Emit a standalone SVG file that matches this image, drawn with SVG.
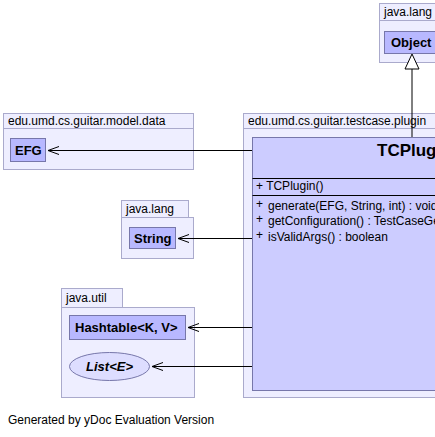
<svg xmlns="http://www.w3.org/2000/svg" width="435" height="437" viewBox="0 0 435 437">
<style>
.pkg{fill:#eeeeff;stroke:#aaaacc;stroke-width:1}
.cls{fill:#b8b8ff;stroke:#7777aa;stroke-width:1}
.main{fill:#ccccff;stroke:#7777aa;stroke-width:1}
.ifc{fill:#ddddff;stroke:#7777aa;stroke-width:1}
.pt{font-family:"Liberation Sans",Arial,sans-serif;font-size:12px;fill:#000}
.ct{font-family:"Liberation Sans",Arial,sans-serif;font-size:13px;font-weight:bold;fill:#000}
.mt{font-family:"Liberation Sans",Arial,sans-serif;font-size:12px;fill:#000}
.edge{stroke:#000;stroke-width:1;fill:none}
</style>
<defs>
<marker id="open" markerWidth="12" markerHeight="10" refX="11" refY="5" orient="auto" markerUnits="userSpaceOnUse">
<path d="M0,1 L11,5 L0,9" fill="none" stroke="#000" stroke-width="1"/>
</marker>
</defs>
<rect width="435" height="437" fill="#fff"/>

<g id="pkg-java-lang-top">
<rect class="pkg" x="379.5" y="3.5" width="60" height="17"/>
<rect class="pkg" x="379.5" y="20.5" width="60" height="42"/>
<text class="pt" x="384" y="16">java.lang</text>
</g>
<g id="Object">
<rect class="cls" x="384.5" y="31.5" width="55" height="22"/>
<text class="ct" x="391" y="47">Object</text>
</g>

<g id="pkg-model-data">
<rect class="pkg" x="3.5" y="113.5" width="190" height="15"/>
<rect class="pkg" x="3.5" y="128.5" width="190" height="41"/>
<text class="pt" x="8" y="125">edu.umd.cs.guitar.model.data</text>
</g>
<g id="EFG">
<rect class="cls" x="10.5" y="138.5" width="35" height="23"/>
<text class="ct" x="15" y="155">EFG</text>
</g>

<g id="pkg-testcase-plugin">
<rect class="pkg" x="243.5" y="113.5" width="200" height="15"/>
<rect class="pkg" x="243.5" y="128.5" width="200" height="269"/>
<text class="pt" x="248" y="125">edu.umd.cs.guitar.testcase.plugin</text>
</g>
<g id="TCPlugin">
<rect class="main" x="252.5" y="137.5" width="200" height="253"/>
<text x="377" y="156" font-family="'Liberation Sans',Arial,sans-serif" font-size="17" font-weight="bold">TCPlugin</text>
<line x1="252.5" y1="178.5" x2="440" y2="178.5" stroke="#000"/>
<text class="mt" x="256" y="190">+ TCPlugin()</text>
<line x1="252.5" y1="195.5" x2="440" y2="195.5" stroke="#000"/>
<text class="mt" x="256" y="208">+</text><text class="mt" x="268" y="210">generate(EFG, String, int) : void</text>
<text class="mt" x="256" y="223">+</text><text class="mt" x="268" y="225">getConfiguration() : TestCaseGeneratorConfiguration</text>
<text class="mt" x="256" y="239">+</text><text class="mt" x="268" y="241">isValidArgs() : boolean</text>
</g>

<g id="pkg-java-lang-string">
<rect class="pkg" x="121.5" y="200.5" width="67" height="17"/>
<rect class="pkg" x="121.5" y="217.5" width="72" height="41"/>
<text class="pt" x="126" y="213">java.lang</text>
</g>
<g id="String">
<rect class="cls" x="129.5" y="227.5" width="46" height="21"/>
<text class="ct" x="134" y="243">String</text>
</g>

<g id="pkg-java-util">
<rect class="pkg" x="61.5" y="288.5" width="61" height="19"/>
<rect class="pkg" x="61.5" y="307.5" width="133" height="90"/>
<text class="pt" x="66" y="302">java.util</text>
</g>
<g id="Hashtable">
<rect class="cls" x="69.5" y="315.5" width="116" height="24"/>
<text class="ct" x="75" y="332">Hashtable&lt;K, V&gt;</text>
</g>
<g id="List">
<ellipse class="ifc" cx="109.5" cy="366.5" rx="40" ry="14"/>
<text class="ct" x="109.5" y="371" text-anchor="middle" font-style="italic">List&lt;E&gt;</text>
</g>

<g id="connectors">
<line class="edge" x1="412" y1="137" x2="412" y2="69"/>
<path d="M405,69 L419,69 L412,54 Z" fill="#fff" stroke="#000"/>
<line class="edge" x1="252" y1="150.5" x2="48" y2="150.5" marker-end="url(#open)"/>
<line class="edge" x1="252" y1="238.5" x2="178" y2="238.5" marker-end="url(#open)"/>
<line class="edge" x1="252" y1="327.5" x2="188" y2="327.5" marker-end="url(#open)"/>
<line class="edge" x1="252" y1="366.5" x2="152" y2="366.5" marker-end="url(#open)"/>
</g>

<text class="pt" x="8" y="424">Generated by yDoc Evaluation Version</text>
</svg>
